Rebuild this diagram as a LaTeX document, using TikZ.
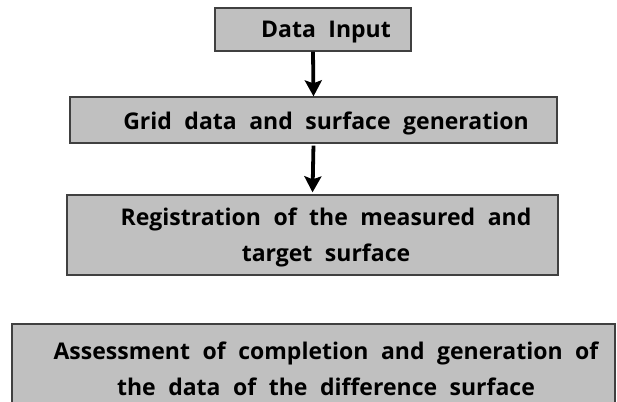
\documentclass[tikz,border=0pt]{standalone}
\usepackage{fontspec}
\setmainfont{Open Sans}[WordSpace=2.1]
\usetikzlibrary{arrows.meta}
\definecolor{boxfill}{HTML}{C0C0C0}
\definecolor{boxline}{HTML}{404040}
\begin{document}
\begin{tikzpicture}[x=1pt,y=-1pt,
  box/.style={draw=boxline,line width=1.3pt,fill=boxfill,inner sep=0pt},
  txt/.style={font=\fontsize{23}{36}\selectfont\bfseries,align=center,inner sep=0pt},
  flow/.style={line width=3.8pt,-{Stealth[length=16pt,width=17pt,inset=3pt]}}]
\useasboundingbox (0,0) rectangle (617,401);
\node[box,minimum width=196pt,minimum height=43pt] (b1) at (313,29.5) {};
\node[box,minimum width=487pt,minimum height=46pt] (b2) at (313.5,120) {};
\node[box,minimum width=491pt,minimum height=80pt] (b3) at (312.5,235) {};
\node[box,minimum width=603pt,minimum height=110pt] (b4) at (313.5,379) {};
\node[txt] (t1) at (326,32) {Data Input};
\node[txt] (t2) at (326,123) {Grid data and surface generation};
\node[txt] (t3) at (326,237) {Registration of the measured and\\target surface};
\node[txt] (t4) at (326,369) {Assessment of completion and generation of\\the data of the difference surface};
\draw[flow] (b1.south) -- (b2.north);
\draw[flow,shorten <=2pt,shorten >=2pt] (b2.south) -- (b3.north);
\end{tikzpicture}
\end{document}
